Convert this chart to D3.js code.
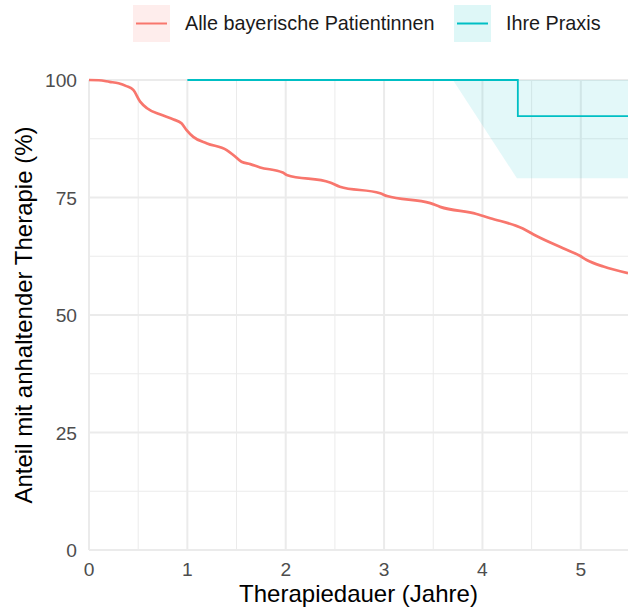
<!DOCTYPE html>
<html>
<head>
<meta charset="utf-8">
<script src="https://cdn.jsdelivr.net/npm/d3@7"></script>
<style>
  body { margin: 0; background: #fff; }
  text { font-family: "Liberation Sans", Arial, sans-serif; }
</style>
</head>
<body>
<div id="content"></div>
<script>
// Daten
var bayernJahre = [0, 0.1, 0.21, 0.3, 0.38, 0.45, 0.52, 0.59, 0.72, 0.86, 0.94, 0.99, 1.06, 1.2, 1.4, 1.47, 1.55, 1.64, 1.74, 1.97, 2.01, 2.45, 2.55, 2.96, 3.03, 3.47, 3.57, 3.94, 4.08, 4.41, 4.55, 4.82, 4.99, 5.06, 5.23, 5.48];
var bayernAnteil = [100, 99.95, 99.6, 99.3, 98.7, 97.9, 95.4, 94.0, 92.7, 91.6, 90.8, 89.4, 87.9, 86.5, 85.1, 84.0, 82.6, 82.1, 81.4, 80.3, 79.8, 78.2, 77.3, 75.9, 75.3, 73.8, 73.0, 71.5, 70.6, 68.4, 66.8, 64.2, 62.6, 61.7, 60.3, 58.9];

var praxisJahre = [1, 4.36, 4.36, 5.48];
var praxisAnteil = [100, 100, 92.3, 92.3];

var bandJahre = [1, 3.7, 4.35, 5.48];
var bandUnten = [100, 100, 79.1, 79.1];
var bandOben = [100, 100, 100, 100];

var xTicks = [0, 1, 2, 3, 4, 5];
var yTicks = [0, 25, 50, 75, 100];
var legendeNamen = ["Alle bayerische Patientinnen", "Ihre Praxis"];

// Dimensionen
var width = 628;
var height = 609;
var margin = {top: 80, right: 0, bottom: 59, left: 89};

var svg = d3.select("#content")
  .append("svg")
  .attr("width", width)
  .attr("height", height);

var x = d3.scaleLinear().domain([0, 5.48]).range([margin.left, width - margin.right]);
var y = d3.scaleLinear().domain([0, 100]).range([height - margin.bottom, margin.top]);

// Gitter
var grid = svg.append("g");
d3.range(0.5, 5.5, 1).forEach(function(v) {
  grid.append("line").attr("x1", x(v)).attr("x2", x(v)).attr("y1", y(0)).attr("y2", y(100))
    .attr("stroke", "#ebebeb").attr("stroke-width", 1);
});
[12.5, 37.5, 62.5, 87.5].forEach(function(v) {
  grid.append("line").attr("x1", x(0)).attr("x2", x(5.48)).attr("y1", y(v)).attr("y2", y(v))
    .attr("stroke", "#ebebeb").attr("stroke-width", 1);
});
xTicks.forEach(function(v) {
  grid.append("line").attr("x1", x(v)).attr("x2", x(v)).attr("y1", y(0)).attr("y2", y(100))
    .attr("stroke", "#ebebeb").attr("stroke-width", 2);
});
yTicks.forEach(function(v) {
  grid.append("line").attr("x1", x(0)).attr("x2", x(5.48)).attr("y1", y(v)).attr("y2", y(v))
    .attr("stroke", "#ebebeb").attr("stroke-width", 2);
});

// Band
var band = bandJahre.map(function(d, i) { return {x: d, lo: bandUnten[i], hi: bandOben[i]}; });
svg.append("path")
  .datum(band)
  .attr("fill", "#00BFC4")
  .attr("fill-opacity", 0.11)
  .attr("d", d3.area()
    .x(function(d) { return x(d.x); })
    .y0(function(d) { return y(d.lo); })
    .y1(function(d) { return y(d.hi); }));

// Linien
var line = d3.line()
  .x(function(d) { return x(d[0]); })
  .y(function(d) { return y(d[1]); })
  .curve(d3.curveMonotoneX);

svg.append("path")
  .datum(d3.zip(bayernJahre, bayernAnteil))
  .attr("fill", "none")
  .attr("stroke", "#F8766D")
  .attr("stroke-width", 2.7)
  .attr("stroke-linejoin", "round")
  .attr("d", line);

svg.append("path")
  .datum(d3.zip(praxisJahre, praxisAnteil))
  .attr("fill", "none")
  .attr("stroke", "#00BFC4")
  .attr("stroke-width", 1.8)
  .attr("d", line.curve(d3.curveLinear));

// Achsenbeschriftung
svg.selectAll(".xt").data(xTicks).enter().append("text")
  .attr("x", function(d) { return x(d); })
  .attr("y", 576)
  .attr("text-anchor", "middle")
  .attr("font-size", 19.2)
  .attr("fill", "#4d4d4d")
  .text(function(d) { return d; });

svg.selectAll(".yt").data(yTicks).enter().append("text")
  .attr("x", 77)
  .attr("y", function(d) { return y(d) + 7; })
  .attr("text-anchor", "end")
  .attr("font-size", 19.2)
  .attr("fill", "#4d4d4d")
  .text(function(d) { return d; });

svg.append("text")
  .attr("x", x(0) + (width - x(0)) / 2)
  .attr("y", 602)
  .attr("text-anchor", "middle")
  .attr("font-size", 24)
  .attr("fill", "#000")
  .text("Therapiedauer (Jahre)");

svg.append("text")
  .attr("transform", "translate(32," + (y(50)) + ") rotate(-90)")
  .attr("text-anchor", "middle")
  .attr("font-size", 24)
  .attr("fill", "#000")
  .text("Anteil mit anhaltender Therapie (%)");

// Legende
var farben = ["#F8766D", "#00BFC4"];
var keyX = [133, 454];
legendeNamen.forEach(function(n, i) {
  var g = svg.append("g").attr("transform", "translate(" + keyX[i] + ",5)");
  g.append("rect").attr("width", 37).attr("height", 37)
    .attr("fill", farben[i]).attr("fill-opacity", 0.13);
  g.append("line").attr("x1", 3).attr("x2", 34).attr("y1", 18.5).attr("y2", 18.5)
    .attr("stroke", farben[i]).attr("stroke-width", 2);
  g.append("text").attr("x", 52).attr("y", 25)
    .attr("font-size", 19.8).attr("fill", "#1a1a1a").text(n);
});
</script>
</body>
</html>
